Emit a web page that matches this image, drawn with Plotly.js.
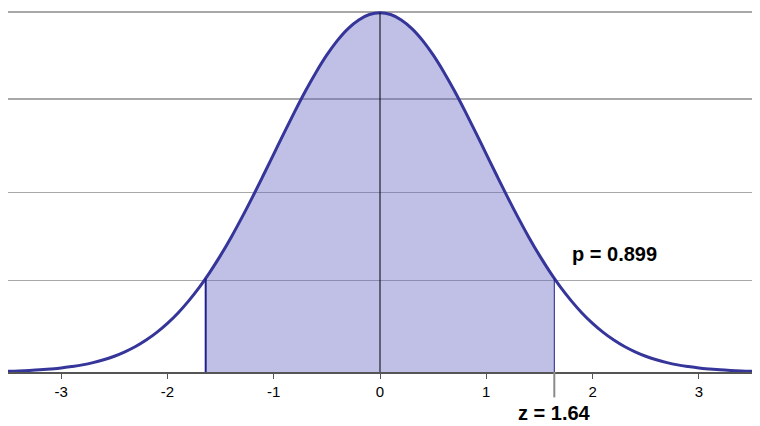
<!DOCTYPE html>
<html>
<head>
<meta charset="utf-8">
<script src="https://cdn.plot.ly/plotly-3.0.1.min.js"></script>
<style>html,body{margin:0;padding:0;background:#fff;}#chart{width:760px;height:426px;}</style>
</head>
<body>
<div id="chart"></div>
<script>
// Standard normal density
var zValues = [-3.5,-3.4,-3.3,-3.2,-3.1,-3.0,-2.9,-2.8,-2.7,-2.6,-2.5,-2.4,-2.3,-2.2,-2.1,-2.0,-1.9,-1.8,-1.7,-1.64,-1.6,-1.5,-1.4,-1.3,-1.2,-1.1,-1.0,-0.9,-0.8,-0.7,-0.6,-0.5,-0.4,-0.3,-0.2,-0.1,0.0,0.1,0.2,0.3,0.4,0.5,0.6,0.7,0.8,0.9,1.0,1.1,1.2,1.3,1.4,1.5,1.6,1.64,1.7,1.8,1.9,2.0,2.1,2.2,2.3,2.4,2.5,2.6,2.7,2.8,2.9,3.0,3.1,3.2,3.3,3.4,3.5];
var density = [0.0009,0.0012,0.0017,0.0024,0.0033,0.0044,0.0060,0.0079,0.0104,0.0136,0.0175,0.0224,0.0283,0.0355,0.0440,0.0540,0.0656,0.0790,0.0940,0.1040,0.1109,0.1295,0.1497,0.1714,0.1942,0.2179,0.2420,0.2661,0.2897,0.3123,0.3332,0.3521,0.3683,0.3814,0.3910,0.3970,0.3989,0.3970,0.3910,0.3814,0.3683,0.3521,0.3332,0.3123,0.2897,0.2661,0.2420,0.2179,0.1942,0.1714,0.1497,0.1295,0.1109,0.1040,0.0940,0.0790,0.0656,0.0540,0.0440,0.0355,0.0283,0.0224,0.0175,0.0136,0.0104,0.0079,0.0060,0.0044,0.0033,0.0024,0.0017,0.0012,0.0009];
var zCut = 1.64;
var pValue = 0.899;
var tickVals = [-3,-2,-1,0,1,2,3];
var tickLabels = ["-3","-2","-1","0","1","2","3"];
var gridLevels = [0.1017,0.1991,0.3031,0.4];

var shadeX = [], shadeY = [];
for (var i = 0; i < zValues.length; i++) {
  if (Math.abs(zValues[i]) <= zCut + 1e-9) { shadeX.push(zValues[i]); shadeY.push(density[i]); }
}
var cutDensity = density[zValues.indexOf(zCut)];
var peak = Math.max.apply(null, density);

var FONT = 'Arial, Liberation Sans, sans-serif';

var traces = [
  {x: shadeX, y: shadeY, type: 'scatter', mode: 'lines', fill: 'tozeroy',
   fillcolor: 'rgba(98,98,192,0.4)', line: {width: 0, shape: 'spline'}, hoverinfo: 'skip'},
  {x: zValues, y: density, type: 'scatter', mode: 'lines',
   line: {color: '#35359a', width: 3, shape: 'spline'}, hoverinfo: 'skip'}
];

var layout = {
  width: 760, height: 426,
  margin: {l: 8, r: 8, t: 10, b: 54},
  paper_bgcolor: '#fff', plot_bgcolor: '#fff',
  showlegend: false,
  font: {family: FONT, color: '#000'},
  xaxis: {
    range: [-3.5, 3.5], showgrid: false, zeroline: false,
    showline: true, linecolor: '#555', linewidth: 2,
    ticks: 'outside', ticklen: 5, tickwidth: 1, tickcolor: '#555',
    tickvals: tickVals, ticktext: tickLabels,
    tickfont: {size: 15, color: '#000', family: FONT},
    fixedrange: true
  },
  yaxis: {
    range: [0, 0.402], showgrid: true, gridcolor: '#a8a8a8', gridwidth: 1.5,
    zeroline: false, showline: false, showticklabels: false, ticks: '',
    tickvals: gridLevels, fixedrange: true
  },
  shapes: [
    {type: 'line', xref: 'x', yref: 'y', x0: 0, x1: 0, y0: 0, y1: peak,
     line: {color: '#000', width: 1}},
    {type: 'line', xref: 'x', yref: 'y', x0: -zCut, x1: -zCut, y0: 0, y1: cutDensity,
     line: {color: '#20208c', width: 2}},
    {type: 'line', xref: 'x', yref: 'y', x0: zCut, x1: zCut, y0: 0, y1: cutDensity,
     line: {color: '#20208c', width: 1}},
    {type: 'line', xref: 'x', yref: 'paper', x0: zCut, x1: zCut, y0: 0, y1: -0.07,
     line: {color: '#8a8a8a', width: 2}}
  ],
  annotations: [
    {x: 1.785, y: 0.131, xref: 'x', yref: 'y', xanchor: 'left', yanchor: 'middle',
     text: 'p = ' + pValue, showarrow: false,
     font: {size: 20, color: '#000', family: FONT, weight: 'bold'}},
    {x: zCut, y: -0.112, xref: 'x', yref: 'paper', xanchor: 'center', yanchor: 'middle',
     text: 'z = ' + zCut, showarrow: false,
     font: {size: 20, color: '#000', family: FONT, weight: 'bold'}}
  ]
};

Plotly.newPlot('chart', traces, layout, {displayModeBar: false, staticPlot: true});
</script>
</body>
</html>
